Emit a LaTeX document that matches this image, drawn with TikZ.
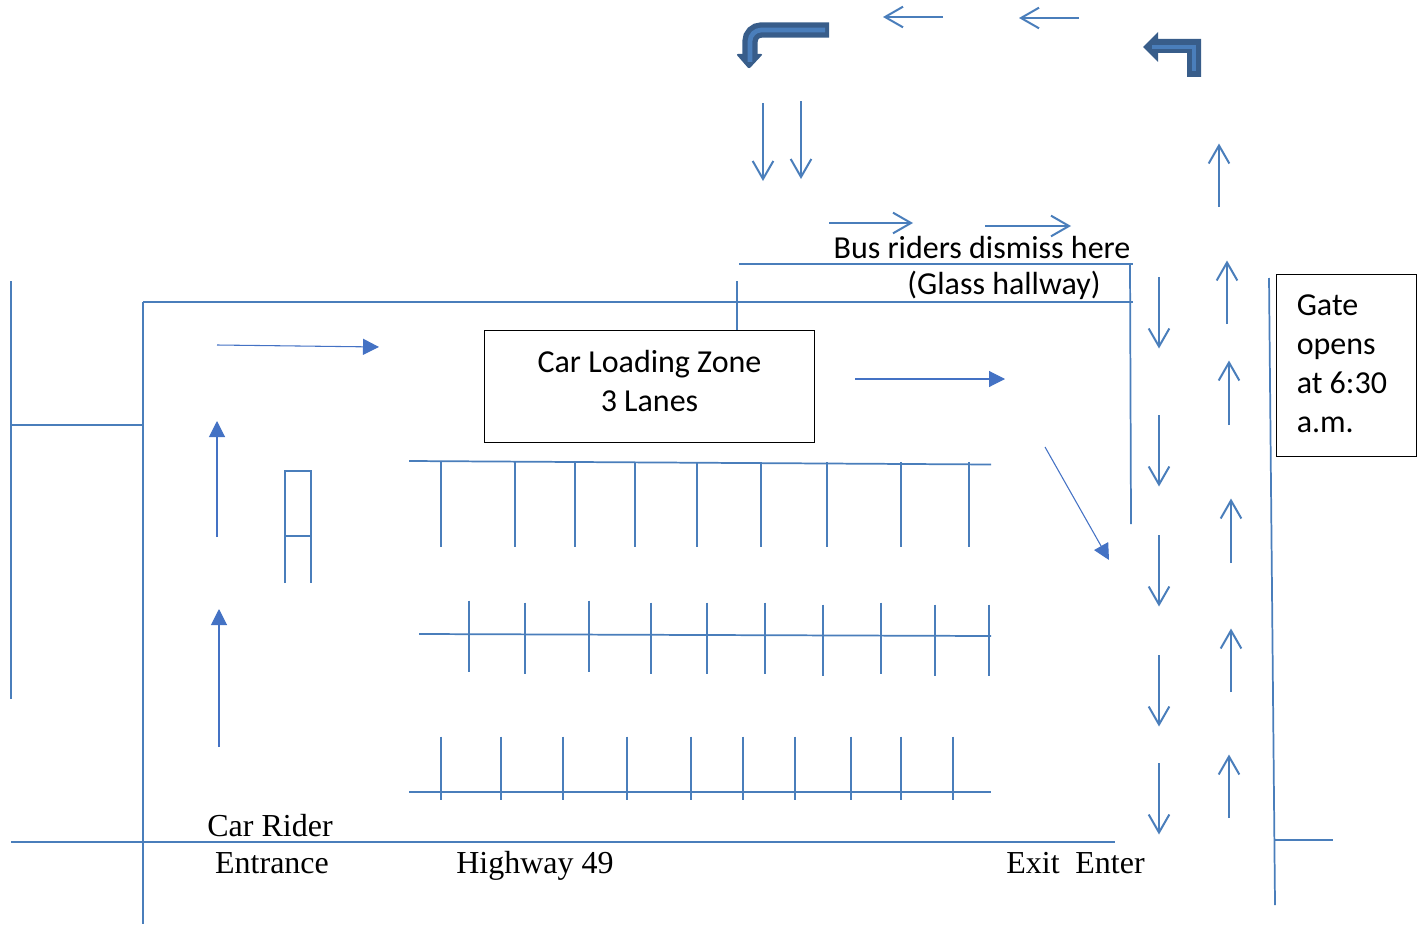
\documentclass[tikz,border=0pt]{standalone}
\usepackage{fontspec}
\setmainfont{Liberation Serif}
\newfontfamily\calibrifont{Carlito}
\usetikzlibrary{arrows.meta}
\definecolor{roadblue}{HTML}{4A7EBB}
\definecolor{arrowblue}{HTML}{4472C4}
\definecolor{benddark}{HTML}{385D8A}
\definecolor{bendlight}{HTML}{4A7EBB}
\tikzset{
    road/.style={draw=roadblue, line width=1.3pt},
    openarrow/.style={road, -{Straight Barb[length=13.5pt, width=15.5pt, line width=1.5pt]}},
    solidarrow/.style={draw=arrowblue, line width=0.8pt, -{Triangle[length=12pt, width=12pt]}},
    calibrilabel/.style={font=\calibrifont\fontsize{24}{29.25}\selectfont, text=black, align=center, inner sep=0pt},
    roadlabel/.style={font=\fontsize{24}{28}\selectfont, text=black, anchor=base, inner sep=0pt},
    signbox/.style={draw=black, line width=0.75pt}
}

\begin{document}
\begin{tikzpicture}[x=0.75pt, y=-0.75pt]
    \useasboundingbox (0,0) rectangle (1419,924);

    % Roads and walls
    \foreach \xa/\ya/\xb/\yb in {11/281/11/699, 11/425/143/425, 143/302/143/924, 143/302/1133/302,
        739/264/1133/264, 737/281/737/331, 1130/263/1131/524, 1269/278/1275/905,
        1275/840/1333/840, 11/842/1115/842} {
        \draw[road] (\xa,\ya) -- (\xb,\yb);
    }

    % Crossing walk on the left
    \draw[road] (285,583) -- (285,471) -- (311,471) -- (311,583);
    \draw[road] (285,536) -- (311,536);

    % Parking rows
    \draw[road] (409,461) -- (991,464.5);
    \foreach \x in {441, 515, 575, 635, 697, 761, 827, 901, 969} {
        \draw[road] (\x,462) -- (\x,546.5);
    }
    \draw[road] (419,634) -- (991,636);
    \foreach \x/\ya/\yb in {469/600.5/672, 525/602.5/674, 589/600.5/672, 651/602.5/674, 707/602.5/674,
        765/602.5/674, 823/604.5/676, 881/602.5/674, 935/604.5/676, 989/604.5/676} {
        \draw[road] (\x,\ya) -- (\x,\yb);
    }
    \draw[road] (409,792) -- (991,792);
    \foreach \x in {441, 501, 563, 627, 691, 743, 795, 851, 901, 953} {
        \draw[road] (\x,736.5) -- (\x,800);
    }

    % Arrows with solid heads
    \foreach \xa/\ya/\xb/\yb in {217/345/379/347, 217/537/217/421, 219/747/219/609,
        855/379/1005/379, 1045/447/1109/560} {
        \draw[solidarrow] (\xa,\ya) -- (\xb,\yb);
    }

    % Arrows with open heads
    \foreach \xa/\ya/\xb/\yb in {943/17/883/17, 1079/18/1019/18, 763/103/763/181, 801/101/801/179,
        829/223/913/223, 985/226/1071/226} {
        \draw[openarrow] (\xa,\ya) -- (\xb,\yb);
    }
    \foreach \ya/\yb in {277/348.5, 415/486.5, 535/606.5, 655/726.5, 763/834.5} {
        \draw[openarrow] (1159,\ya) -- (1159,\yb);
    }
    \foreach \x/\ya/\yb in {1219/207/143.5, 1227/324/260.5, 1229/425/360.5, 1231/563/498.5,
        1231/692/628.5, 1229/818/754.5} {
        \draw[openarrow] (\x,\ya) -- (\x,\yb);
    }

    % Bent arrow, curved
    \fill[benddark, rounded corners=1.5pt] (736,54) -- (763,54) -- (749,69) -- cycle;
    \draw[benddark, line width=11.5pt, rounded corners=8.5pt] (829,30) -- (750,30) -- (750,56);
    \draw[bendlight, line width=3.5pt, rounded corners=8.5pt] (825,30) -- (750,30) -- (750,62);

    % Bent arrow, square
    \fill[benddark] (1143,47) -- (1158,32) -- (1158,39) -- (1201,39) -- (1201,77) -- (1187,77) -- (1187,53) -- (1158,53) -- (1158,62) -- cycle;
    \draw[bendlight, line width=3pt] (1152,47) -- (1194,47) -- (1194,71);

    % Labels
    \node[signbox, minimum width=247.5pt, minimum height=84pt, inner sep=0pt] (loadbox) at (649.5,386.5) {};
    \node[calibrilabel] (loadtext) at (649.5,381) {Car Loading Zone\\3 Lanes};
    \node[signbox, minimum width=105pt, minimum height=136.5pt, inner sep=0pt] (gatebox) at (1346.5,365.5) {};
    \node[calibrilabel, align=left, anchor=west] (gatetext) at (1296.5,364) {Gate\\opens\\at 6:30\\a.m.};
    \node[calibrilabel, anchor=base] (dismisstext) at (982,258) {Bus riders dismiss here};
    \node[calibrilabel, anchor=base] (glasstext) at (1004,294) {(Glass hallway)};
    \node[roadlabel] (cartext) at (270,836) {Car Rider};
    \node[roadlabel] (entrancetext) at (272,873) {Entrance};
    \node[roadlabel] (highwaytext) at (535,873) {Highway 49};
    \node[roadlabel] (exittext) at (1033,873) {Exit};
    \node[roadlabel] (entertext) at (1110,873) {Enter};
\end{tikzpicture}
\end{document}
